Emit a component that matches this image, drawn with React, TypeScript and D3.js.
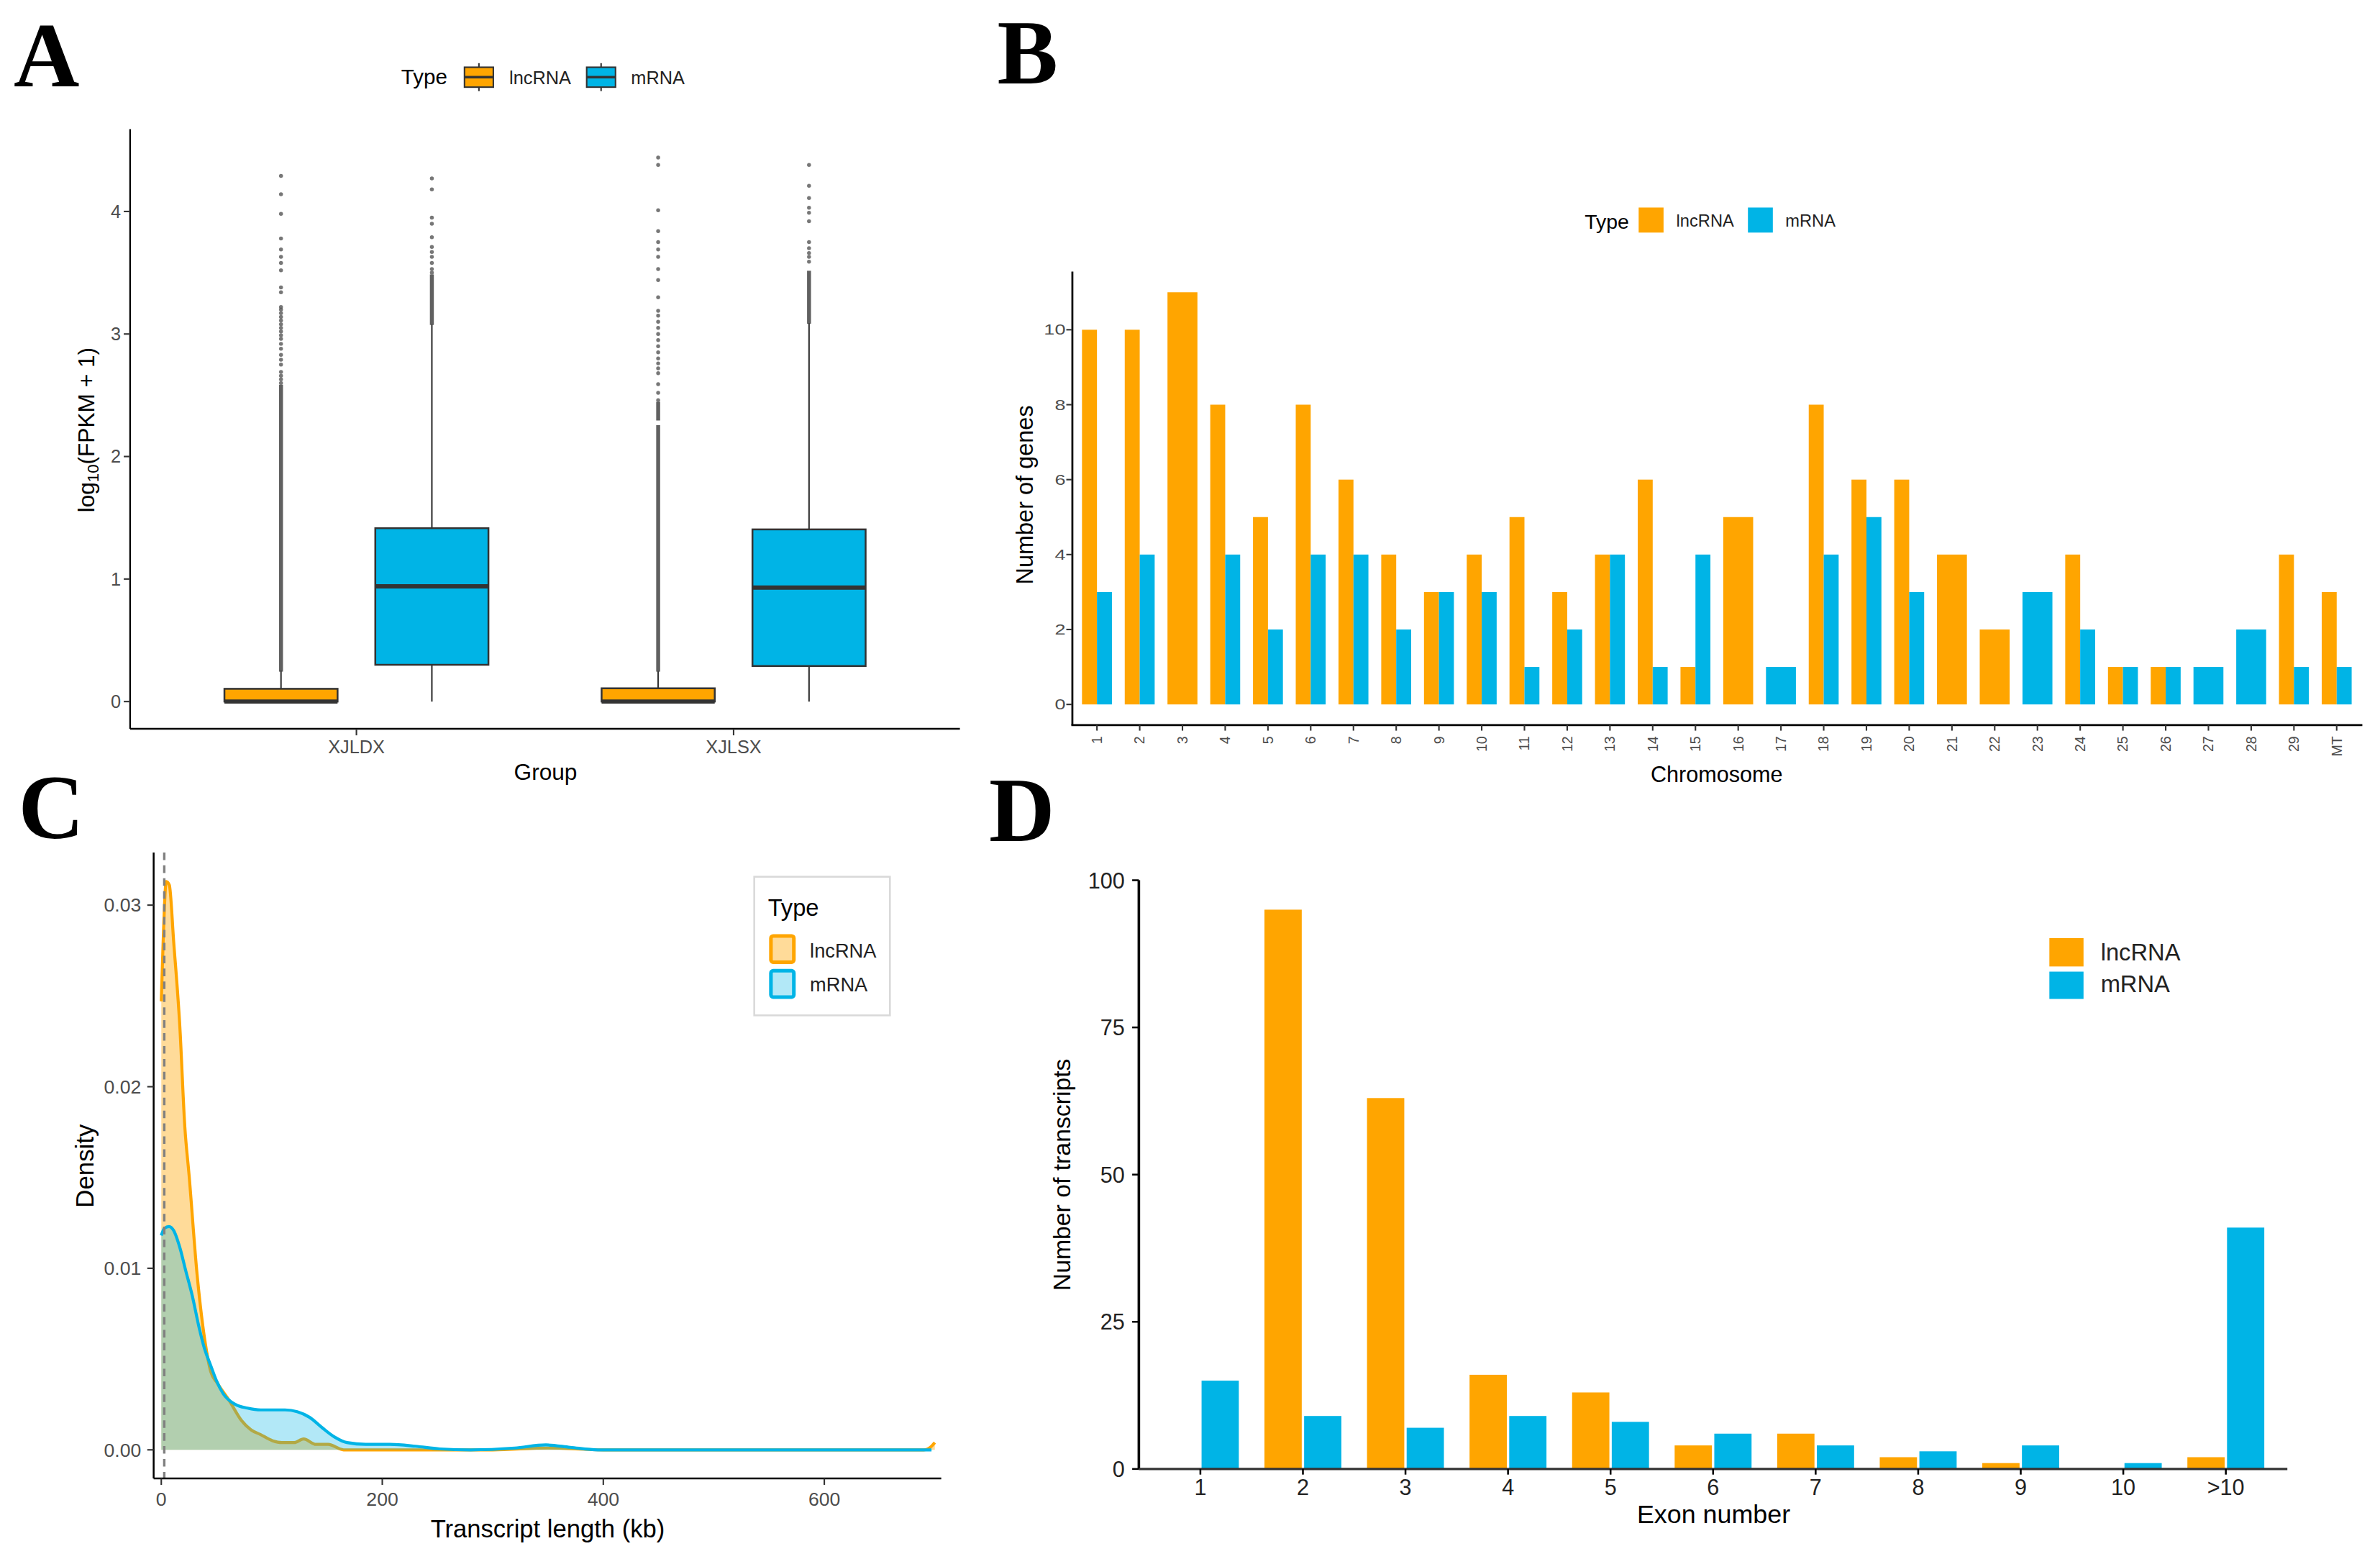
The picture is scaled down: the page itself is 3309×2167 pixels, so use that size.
import * as d3 from "d3";

// drawing units: the reference at 1568 px wide, scaled up by the viewBox
const W = 1568;
const H = 1026.9;
const SANS = "'Liberation Sans', Arial, sans-serif";
const SERIF = "'Liberation Serif', 'Times New Roman', serif";
const ORANGE = "#FFA500";
const BLUE = "#00B4E6";

// ---------------- A: expression boxplots ----------------
const groups = ["XJLDX", "XJLSX"];
const types = ["lncRNA", "mRNA"];
// [lower whisker, q1, median, q3, upper whisker]
const lncBoxStats = [
  [0, 0, 0, 0.104, 0.254],
  [0, 0, 0, 0.108, 0.25],
];
const mrnaBoxStats = [
  [0, 0.3, 0.94, 1.415, 3.08],
  [0, 0.29, 0.93, 1.405, 3.09],
];
// stretches where the outliers are packed into a solid column
const lncOutlierRuns = [
  [[0.26, 2.57]],
  [[0.26, 2.24], [2.31, 2.43]],
];
const mrnaOutlierRuns = [[[3.09, 3.47]], [[3.1, 3.5]]];
const lncOutliers = [
  [2.6, 2.63, 2.66, 2.69, 2.75, 2.79, 2.83, 2.88, 2.92, 2.96, 2.99, 3.02, 3.05, 3.08, 3.11, 3.14, 3.17, 3.2, 3.22, 3.34, 3.38, 3.52, 3.58, 3.63, 3.69, 3.78, 3.98, 4.14, 4.29],
  [2.46, 2.52, 2.59, 2.68, 2.72, 2.76, 2.8, 2.85, 2.9, 2.95, 3.0, 3.05, 3.1, 3.15, 3.19, 3.3, 3.44, 3.53, 3.63, 3.69, 3.75, 3.84, 4.01, 4.38, 4.44],
];
const mrnaOutliers = [
  [3.5, 3.53, 3.58, 3.63, 3.67, 3.71, 3.79, 3.9, 3.95, 4.18, 4.27],
  [3.59, 3.63, 3.66, 3.7, 3.75, 3.92, 3.99, 4.03, 4.11, 4.21, 4.38],
];

// ---------------- B: genes per chromosome ----------------
const chromosomes = ["1", "2", "3", "4", "5", "6", "7", "8", "9", "10", "11", "12", "13", "14", "15", "16", "17", "18", "19", "20", "21", "22", "23", "24", "25", "26", "27", "28", "29", "MT"];
const lncGenes = [10, 10, 11, 8, 5, 8, 6, 4, 3, 4, 5, 3, 4, 6, 1, 5, 0, 8, 6, 6, 4, 2, 0, 4, 1, 1, 0, 0, 4, 3];
const mrnaGenes = [3, 4, 0, 4, 2, 4, 4, 2, 3, 3, 1, 2, 4, 1, 4, 0, 1, 4, 5, 3, 0, 0, 3, 2, 1, 1, 1, 2, 1, 1];
const geneTicks = [0, 2, 4, 6, 8, 10];

// ---------------- C: length density ----------------
const lncLengthKb = [0, 1.7, 4.5, 7.3, 11.2, 16.8, 21.3, 25.2, 32.5, 36.4, 40, 44.8, 50.4, 61.6, 72.8, 81.2, 89.6, 100.8, 109.2, 120.4, 128.8, 140, 151, 165, 200, 300, 350, 400, 500, 600, 690, 697, 700];
const lncDensity = [0.0247, 0.028, 0.0313, 0.0311, 0.028, 0.0233, 0.0178, 0.0151, 0.0096, 0.0074, 0.0058, 0.0043, 0.0037, 0.0027, 0.0016, 0.0011, 0.00085, 0.0005, 0.0004, 0.0004, 0.0006, 0.0003, 0.0003, 0, 0, 0, 0.0001, 0, 0, 0, 0, 0.0002, 0.0004];
const mrnaLengthKb = [0, 2.8, 7, 11, 17, 22, 28, 34, 39, 45, 50, 56, 67, 78, 90, 112, 123, 134, 146, 157, 168, 185, 207, 230, 252, 280, 320, 348, 370, 395, 500, 600, 697];
const mrnaDensity = [0.0118, 0.0122, 0.0123, 0.0121, 0.0111, 0.0099, 0.0085, 0.0068, 0.0056, 0.0046, 0.0038, 0.0031, 0.0025, 0.0023, 0.0022, 0.0022, 0.0021, 0.0018, 0.0012, 0.0007, 0.0004, 0.0003, 0.0003, 0.0002, 0.00005, 0, 0.0001, 0.00027, 0.00014, 0, 0, 0, 0];
const lengthTicks = [0, 200, 400, 600];
const densityTicks = [0, 0.01, 0.02, 0.03];
const meanLineKb = 2.7;

// ---------------- D: exon number ----------------
const exonBins = ["1", "2", "3", "4", "5", "6", "7", "8", "9", "10", ">10"];
const lncExons = [0, 95, 63, 16, 13, 4, 6, 2, 1, 0, 2];
const mrnaExons = [15, 9, 7, 9, 8, 6, 4, 3, 4, 1, 41];
const transcriptTicks = [0, 25, 50, 75, 100];

function Label({ x, y, text, size, anchor = "start", fill = "#000", rotate = 0, sx = 1, dy = 0 }: any) {
  return (
    <text
      transform={`translate(${x},${y}) scale(${sx},1) rotate(${rotate})`}
      fontFamily={SANS}
      fontSize={size}
      textAnchor={anchor}
      fill={fill}
      dy={dy}
    >
      {text}
    </text>
  );
}

function PanelA() {
  const x = d3.scalePoint<string>().domain(groups).range([85.7, 632.4]).padding(0.6);
  const step = x.step();
  const y = d3.scaleLinear().domain([0, 4]).range([462.1, 139.3]);
  const bottom = y(-0.2225);
  const top = y(4.6725);
  const boxW = 0.3 * step;
  return (
    <g>
      <text x={9} y={57} fontFamily={SERIF} fontWeight="bold" fontSize={60}>A</text>
      {/* legend */}
      <Label x={264.3} y={55.3} text="Type" size={14} />
      {types.map((t, i) => {
        const kx = i === 0 ? 306 : 386.5;
        const tx = i === 0 ? 335.5 : 415.7;
        return (
          <g key={t}>
            <line x1={kx + 9.5} x2={kx + 9.5} y1={41.6} y2={60} stroke="#333" strokeWidth={1} />
            <rect x={kx} y={44.3} width={19} height={13.1} fill={i === 0 ? ORANGE : BLUE} stroke="#333" strokeWidth={1} />
            <line x1={kx} x2={kx + 19} y1={50.8} y2={50.8} stroke="#333" strokeWidth={1.6} />
            <Label x={tx} y={55.3} text={t} size={12} fill="#222" />
          </g>
        );
      })}
      {/* boxes */}
      {groups.map((g, gi) =>
        types.map((t, ti) => {
          const s = ti === 0 ? lncBoxStats[gi] : mrnaBoxStats[gi];
          const runs = ti === 0 ? lncOutlierRuns[gi] : mrnaOutlierRuns[gi];
          const pts = ti === 0 ? lncOutliers[gi] : mrnaOutliers[gi];
          const cx = (x(g) as number) + (ti === 0 ? -0.2 : 0.2) * step;
          return (
            <g key={g + t}>
              <line x1={cx} x2={cx} y1={y(s[0])} y2={y(s[4])} stroke="#333" strokeWidth={1} />
              <rect x={cx - boxW / 2} y={y(s[3])} width={boxW} height={y(s[1]) - y(s[3])} fill={ti === 0 ? ORANGE : BLUE} stroke="#333" strokeWidth={1.2} />
              <line x1={cx - boxW / 2} x2={cx + boxW / 2} y1={y(s[2])} y2={y(s[2])} stroke="#333" strokeWidth={2.8} />
              {runs.map((r, ri) => (
                <rect key={ri} x={cx - 1.3} width={2.6} y={y(r[1]) - 1.3} height={y(r[0]) - y(r[1]) + 2.6} fill="#444" opacity={0.85} />
              ))}
              {pts.map((v, pi) => (
                <circle key={pi} cx={cx} cy={y(v)} r={1.3} fill="#555" opacity={0.8} />
              ))}
            </g>
          );
        })
      )}
      {/* axes */}
      <line x1={85.7} x2={85.7} y1={top} y2={bottom} stroke="#000" strokeWidth={1.1} />
      <line x1={85.7} x2={632.4} y1={bottom} y2={bottom} stroke="#000" strokeWidth={1.1} />
      {[0, 1, 2, 3, 4].map((v) => (
        <g key={v}>
          <line x1={81.5} x2={85.7} y1={y(v)} y2={y(v)} stroke="#333" strokeWidth={1} />
          <Label x={79.6} y={y(v)} dy="0.35em" text={String(v)} size={12} anchor="end" fill="#4d4d4d" />
        </g>
      ))}
      {groups.map((g) => (
        <g key={g}>
          <line x1={x(g)} x2={x(g)} y1={bottom} y2={bottom + 4.3} stroke="#333" strokeWidth={1} />
          <Label x={x(g)} y={496} text={g} size={12} anchor="middle" fill="#4d4d4d" />
        </g>
      ))}
      <Label x={359.4} y={513.6} text="Group" size={15} anchor="middle" />
      <text transform="translate(62,283.2) rotate(-90)" fontFamily={SANS} fontSize={15} textAnchor="middle">
        log<tspan fontSize={10.5} dy={3}>10</tspan>
        <tspan dy={-3}>(FPKM + 1)</tspan>
      </text>
    </g>
  );
}

function PanelB() {
  const x = d3.scaleBand<string>().domain(chromosomes).range([705.8, 1556.4]).paddingInner(0.3).paddingOuter(0.25);
  const bw = x.bandwidth();
  const y = d3.scaleLinear().domain([0, 10]).range([464, 217.2]);
  const bottom = y(-0.55);
  const top = y(11.55);
  return (
    <g>
      <text x={657} y={55} fontFamily={SERIF} fontWeight="bold" fontSize={60}>B</text>
      {/* legend */}
      <Label x={1044} y={150.9} text="Type" size={13.5} />
      <rect x={1079.6} y={136.7} width={16.4} height={16.5} fill={ORANGE} />
      <Label x={1104.4} y={149.3} text="lncRNA" size={11.2} fill="#222" />
      <rect x={1151.6} y={136.7} width={16.4} height={16.5} fill={BLUE} />
      <Label x={1176.3} y={149.3} text="mRNA" size={11.2} fill="#222" />
      {/* bars */}
      {chromosomes.map((c, i) => {
        const x0 = x(c) as number;
        const l = lncGenes[i];
        const m = mrnaGenes[i];
        if (l > 0 && m > 0) {
          return (
            <g key={c}>
              <rect x={x0} width={bw / 2} y={y(l)} height={y(0) - y(l)} fill={ORANGE} />
              <rect x={x0 + bw / 2} width={bw / 2} y={y(m)} height={y(0) - y(m)} fill={BLUE} />
            </g>
          );
        }
        const v = l > 0 ? l : m;
        return <rect key={c} x={x0} width={bw} y={y(v)} height={y(0) - y(v)} fill={l > 0 ? ORANGE : BLUE} />;
      })}
      {/* axes */}
      <line x1={706.5} x2={706.5} y1={top} y2={bottom} stroke="#000" strokeWidth={1.3} />
      <line x1={705.8} x2={1556.4} y1={bottom} y2={bottom} stroke="#000" strokeWidth={1.3} />
      {geneTicks.map((v) => (
        <g key={v}>
          <line x1={702.5} x2={706.5} y1={y(v)} y2={y(v)} stroke="#333" strokeWidth={1} />
          <Label x={702} y={y(v)} dy="0.35em" text={String(v)} size={9.5} anchor="end" sx={1.35} fill="#4d4d4d" />
        </g>
      ))}
      {chromosomes.map((c) => {
        const cx = (x(c) as number) + bw / 2;
        return (
          <g key={c}>
            <line x1={cx} x2={cx} y1={bottom} y2={bottom + 3.7} stroke="#333" strokeWidth={1} />
            <Label x={cx} y={484.9} dy="0.35em" text={c} size={9.3} anchor="end" rotate={-90} fill="#4d4d4d" />
          </g>
        );
      })}
      <Label x={1131} y={515} text="Chromosome" size={14.5} anchor="middle" />
      <Label x={680.5} y={326} text="Number of genes" size={15.4} anchor="middle" rotate={-90} />
    </g>
  );
}

function PanelC() {
  const x = d3.scaleLinear().domain([-6.9, 705.8]).range([101.2, 620.1]);
  const y = d3.scaleLinear().domain([0, 0.03]).range([955, 596.2]);
  const bottom = y(-0.00157);
  const top = y(0.0329);
  const area = d3
    .area<[number, number]>()
    .x((d) => x(d[0]))
    .y0(y(0))
    .y1((d) => y(d[1]))
    .curve(d3.curveMonotoneX);
  const line = d3
    .line<[number, number]>()
    .x((d) => x(d[0]))
    .y((d) => y(d[1]))
    .curve(d3.curveMonotoneX);
  const lnc = lncLengthKb.map((k, i) => [k, lncDensity[i]] as [number, number]);
  const mrna = mrnaLengthKb.map((k, i) => [k, mrnaDensity[i]] as [number, number]);
  return (
    <g>
      <text x={12} y={552} fontFamily={SERIF} fontWeight="bold" fontSize={60}>C</text>
      <path d={area(lnc) as string} fill={ORANGE} fillOpacity={0.4} />
      <path d={line(lnc) as string} fill="none" stroke={ORANGE} strokeWidth={2} />
      <path d={area(mrna) as string} fill={BLUE} fillOpacity={0.3} />
      <path d={line(mrna) as string} fill="none" stroke={BLUE} strokeWidth={2} />
      <line x1={x(meanLineKb)} x2={x(meanLineKb)} y1={top} y2={bottom} stroke="#808080" strokeWidth={1.6} strokeDasharray="5 3.5" />
      {/* axes */}
      <line x1={101.2} x2={101.2} y1={top} y2={bottom} stroke="#000" strokeWidth={1.2} />
      <line x1={101.2} x2={620.1} y1={bottom} y2={bottom} stroke="#000" strokeWidth={1.2} />
      {densityTicks.map((v) => (
        <g key={v}>
          <line x1={97} x2={101.2} y1={y(v)} y2={y(v)} stroke="#333" strokeWidth={1} />
          <Label x={93} y={y(v)} dy="0.35em" text={d3.format(".2f")(v)} size={12.6} anchor="end" fill="#4d4d4d" />
        </g>
      ))}
      {lengthTicks.map((v) => (
        <g key={v}>
          <line x1={x(v)} x2={x(v)} y1={bottom} y2={bottom + 4.3} stroke="#333" strokeWidth={1} />
          <Label x={x(v)} y={992} text={String(v)} size={12.6} anchor="middle" fill="#4d4d4d" />
        </g>
      ))}
      <Label x={360.8} y={1012.8} text="Transcript length (kb)" size={16.4} anchor="middle" />
      <Label x={61.5} y={768} text="Density" size={16.5} anchor="middle" rotate={-90} />
      {/* legend */}
      <rect x={496.9} y={577.5} width={89.4} height={91.3} fill="#fff" stroke="#d9d9d9" strokeWidth={1.2} />
      <Label x={505.9} y={603.1} text="Type" size={15.5} />
      <rect x={507.9} y={616.5} width={15.1} height={17.3} rx={1.5} fill={ORANGE} fillOpacity={0.4} stroke={ORANGE} strokeWidth={2.4} />
      <rect x={507.9} y={639.4} width={15.1} height={17.4} rx={1.5} fill={BLUE} fillOpacity={0.3} stroke={BLUE} strokeWidth={2.4} />
      <Label x={533.6} y={630.7} text="lncRNA" size={12.9} fill="#222" />
      <Label x={533.6} y={653} text="mRNA" size={12.9} fill="#222" />
    </g>
  );
}

function PanelD() {
  const x = d3.scaleBand<string>().domain(exonBins).range([750.3, 1507]).paddingInner(0.25).paddingOuter(0.225);
  const bw = x.bandwidth();
  const inner = d3.scaleBand<string>().domain(types).range([0, bw]).paddingInner(0.06);
  const y = d3.scaleLinear().domain([0, 100]).range([967.6, 579.8]);
  return (
    <g>
      <text x={651.6} y={553.9} fontFamily={SERIF} fontWeight="bold" fontSize={60}>D</text>
      {exonBins.map((b, i) =>
        types.map((t) => {
          const v = t === "lncRNA" ? lncExons[i] : mrnaExons[i];
          return (
            <rect
              key={b + t}
              x={(x(b) as number) + (inner(t) as number)}
              width={inner.bandwidth()}
              y={y(v)}
              height={y(0) - y(v)}
              fill={t === "lncRNA" ? ORANGE : BLUE}
            />
          );
        })
      )}
      <line x1={750.3} x2={750.3} y1={y(100)} y2={y(0)} stroke="#000" strokeWidth={1.7} />
      <line x1={750.3} x2={1507} y1={y(0)} y2={y(0)} stroke="#333" strokeWidth={1.6} />
      {transcriptTicks.map((v) => (
        <g key={v}>
          <line x1={745.9} x2={750.3} y1={y(v)} y2={y(v)} stroke="#000" strokeWidth={1.2} />
          <Label x={741} y={y(v)} dy="0.36em" text={String(v)} size={14.5} anchor="end" fill="#222" />
        </g>
      ))}
      {exonBins.map((b) => {
        const cx = (x(b) as number) + bw / 2;
        return (
          <g key={b}>
            <line x1={cx} x2={cx} y1={y(0)} y2={y(0) + 3.7} stroke="#000" strokeWidth={1.2} />
            <Label x={cx} y={984.7} text={b} size={14.5} anchor="middle" fill="#222" />
          </g>
        );
      })}
      <Label x={1129} y={1003} text="Exon number" size={17} anchor="middle" />
      <Label x={705} y={773.8} text="Number of transcripts" size={16} anchor="middle" rotate={-90} />
      {/* legend */}
      <rect x={1350.2} y={617.9} width={22.5} height={18.7} fill={ORANGE} />
      <rect x={1350.2} y={640} width={22.5} height={18} fill={BLUE} />
      <Label x={1384} y={632.7} text="lncRNA" size={15.5} fill="#222" />
      <Label x={1384} y={653.7} text="mRNA" size={15.5} fill="#222" />
    </g>
  );
}

export default function App() {
  return (
    <svg
      width={3309}
      height={2167}
      viewBox={`0 0 ${W} ${H}`}
      style={{ position: "absolute", left: 0, top: 0, background: "#fff" }}
    >
      <rect width={W} height={H} fill="#fff" />
      <PanelA />
      <PanelB />
      <PanelC />
      <PanelD />
    </svg>
  );
}
